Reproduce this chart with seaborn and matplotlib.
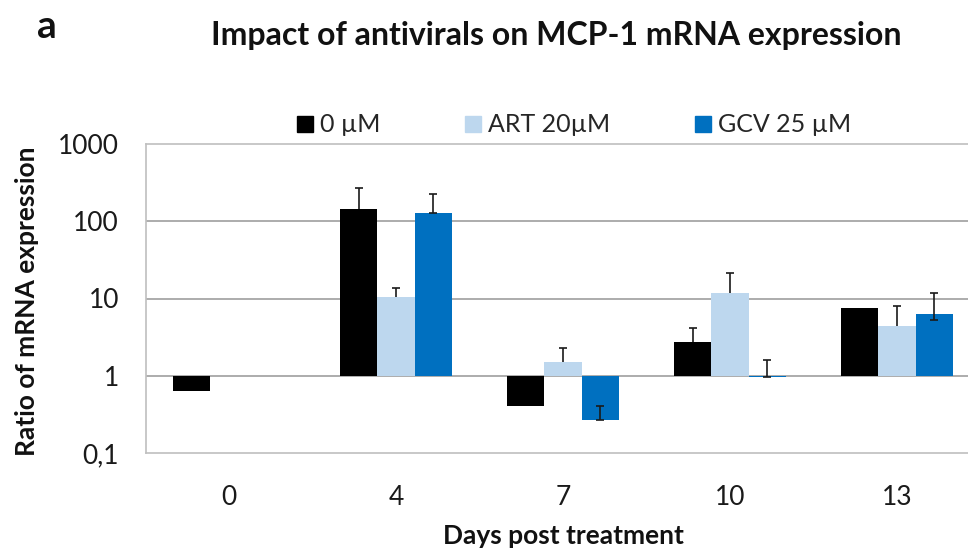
import numpy as np
import pandas as pd
import matplotlib
matplotlib.use("Agg")
import matplotlib.pyplot as plt
from matplotlib.lines import Line2D
import seaborn as sns

# ---- data -------------------------------------------------------------
days = ["0", "4", "7", "10", "13"]
series = ["0 µM", "ART 20µM", "GCV 25 µM"]
colors = ["#000000", "#bdd7ee", "#0070c0"]

ratio_0uM = [0.627, 146.0, 0.40, 2.77, 7.54]
ratio_art = [np.nan, 10.5, 1.50, 11.8, 4.42]
ratio_gcv = [np.nan, 128.0, 0.265, 0.97, 6.37]

# upper ends of the error bars
upper_0uM = [np.nan, 269.0, np.nan, 4.16, np.nan]
upper_art = [np.nan, 13.8, 2.28, 21.5, 8.0]
upper_gcv = [np.nan, 228.0, 0.41, 1.61, 11.7]
# lower ends (only the GCV series has two-sided bars)
lower_gcv = [np.nan, 128.0, 0.265, 0.97, 5.28]

ytick_values = [0.1, 1, 10, 100, 1000]
ytick_labels = ["0,1", "1", "10", "100", "1000"]

# ---- tidy table, bars drawn from ratio 1 on a log10 axis ---------------
values = [ratio_0uM, ratio_art, ratio_gcv]
df = pd.DataFrame({
    "day": np.repeat([days], 3, axis=0).ravel(),
    "treatment": np.repeat(series, len(days)),
    "ratio": np.concatenate(values),
})
df["log_ratio"] = np.log10(df["ratio"])

sns.set_style("white")
plt.rcParams["font.family"] = ["Lato", "DejaVu Sans"]

fig = plt.figure(figsize=(9.68, 5.48), dpi=100)
ax = fig.add_axes([145.5 / 968, 95 / 548, 835 / 968, 309 / 548])

group_width = 0.667
sns.barplot(data=df, x="day", y="log_ratio", hue="treatment",
            order=days, hue_order=series, palette=colors,
            width=group_width, gap=0, dodge=True, errorbar=None,
            saturation=1, linewidth=0, legend=False, ax=ax, zorder=3)

# error bars
bar_w = group_width / len(series)
uppers = [upper_0uM, upper_art, upper_gcv]
lowers = [ratio_0uM, ratio_art, lower_gcv]
two_sided = [False, False, True]
cap = 0.023
for j in range(len(series)):
    for i in range(len(days)):
        hi = uppers[j][i]
        if np.isnan(hi):
            continue
        x = i + (j - 1) * bar_w
        lo = lowers[j][i]
        y_hi, y_lo = np.log10(hi), np.log10(lo)
        ax.vlines(x, y_lo, y_hi, color="#1a1a1a", lw=1.2, zorder=4)
        ax.hlines(y_hi, x - cap, x + cap, color="#1a1a1a", lw=1.2, zorder=4)
        if two_sided[j]:
            ax.hlines(y_lo, x - cap, x + cap, color="#1a1a1a", lw=1.2, zorder=4)

# axes styling
log_ticks = np.log10(ytick_values)
ax.set_ylim(log_ticks[0], log_ticks[-1])
ax.set_xlim(-0.5, len(days) - 0.5)
ax.set_yticks(log_ticks)
ax.set_yticklabels(ytick_labels)
for t in log_ticks[1:-1]:
    ax.axhline(t, color="#a6a6a6", lw=1.3, zorder=2)
for side in ["left", "top", "bottom", "right"]:
    ax.spines[side].set_color("#bfbfbf")
    ax.spines[side].set_linewidth(1.2)
ax.tick_params(axis="both", length=0, labelsize=19, colors="#1a1a1a")
ax.tick_params(axis="y", pad=19)
ax.tick_params(axis="x", pad=23)

ax.set_xlabel("Days post treatment", fontsize=19, fontweight="bold",
              color="#111111", va="center")
ax.xaxis.set_label_coords(0.5, (453 - 536) / 309)
ax.set_ylabel("Ratio of mRNA expression", fontsize=19, fontweight="bold",
              color="#111111", va="center")
ax.yaxis.set_label_coords((27 - 145.5) / 835, (453 - 301) / 309)

# legend above the plot
handles = [Line2D([], [], marker="s", ls="", markersize=12,
                  markerfacecolor=c, markeredgecolor=c) for c in colors]
fig.legend(handles, series, loc="center", bbox_to_anchor=(573 / 968, 1 - 125 / 548),
           ncol=3, frameon=False, fontsize=18, handletextpad=0.2,
           columnspacing=3.3, handlelength=0.8)

fig.text(556 / 968, 1 - 35 / 548, "Impact of antivirals on MCP-1 mRNA expression",
         ha="center", va="center", fontsize=23, fontweight="bold", color="#111111")
fig.text(47 / 968, 1 - 27 / 548, "a", ha="center", va="center",
         fontsize=28, fontweight="bold", color="#111111")

fig.savefig("out.png", dpi=100)
